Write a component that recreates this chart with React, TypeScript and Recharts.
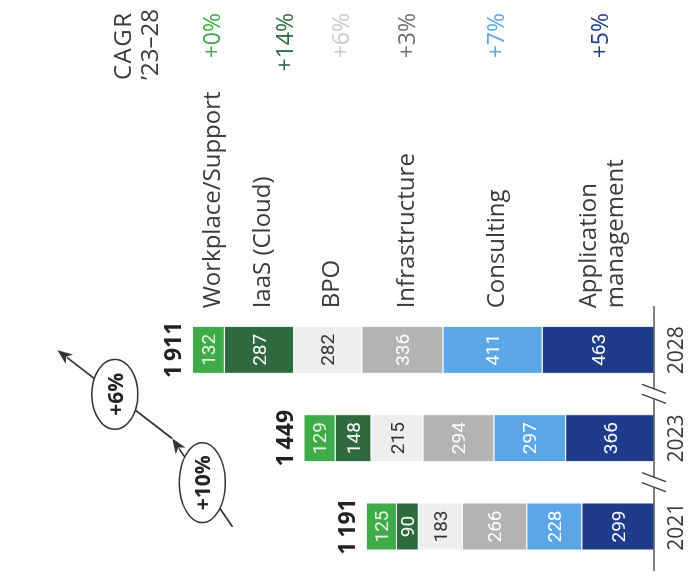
import React from 'react';
import { BarChart, Bar, XAxis, YAxis, LabelList, ReferenceLine } from 'recharts';

// ---------- data ----------
const years = ['2021', '2023', '2028'];
const applicationManagement = [299, 366, 463];
const consulting = [228, 297, 411];
const infrastructure = [266, 294, 336];
const bpo = [183, 215, 282];
const iaas = [90, 148, 287];
const workplace = [125, 129, 132];
const totals = [1191, 1449, 1911];
const seriesNames = ['Application management', 'Consulting', 'Infrastructure', 'BPO', 'IaaS (Cloud)', 'Workplace/Support'];
const cagrLabels = ['+5%', '+7%', '+3%', '+6%', '+14%', '+0%'];
const cagrHeader = ['CAGR', '\u201923\u201328'];
const growthLabels = ['+10%', '+6%'];
const growthPoints = [1745, 1995, 2470];

// ---------- styles ----------
const FONT = '"Open Sans", "Noto Sans", sans-serif';
const NUM_FONT = 'Roboto, "Noto Sans", sans-serif';
const seriesKeys = ['app', 'consulting', 'infra', 'bpo', 'iaas', 'workplace'];
const seriesColors = ['#1f3b8c', '#5ba6e6', '#b3b3b3', '#eeeeee', '#2e6a3e', '#3fab49'];
const valueColors = ['#ffffff', '#ffffff', '#ffffff', '#333333', '#ffffff', '#eaf6e4'];
const cagrColors = ['#1f3b8c', '#5ba6e6', '#6f6f6f', '#c9c9c9', '#2e6a3e', '#3fab49'];
const cagrNudge = [1, 2, 4, 12, 25, 3];
const headerSpacing = [1.5, 0];
const CAGR_RIGHT = 566;
const HEADER_LEFT = 499;

const seriesValues = [applicationManagement, consulting, infrastructure, bpo, iaas, workplace];
const data = years.map((year, i) => {
  const row: Record<string, any> = { year };
  seriesKeys.forEach((k, s) => {
    row[k] = seriesValues[s][i];
  });
  return row;
});

const fmt = (n: number) => {
  const s = String(n);
  return s.length > 3 ? s.slice(0, s.length - 3) + '\u2009' + s.slice(s.length - 3) : s;
};

const rectOf = (props: any) => {
  const vb = props.viewBox || {};
  const x = Number(props.x ?? vb.x);
  const y = Number(props.y ?? vb.y);
  const w = Number(props.width ?? vb.width);
  const h = Number(props.height ?? vb.height);
  return { x, y: Math.min(y, y + h), w, h: Math.abs(h) };
};

const makeSideLabel = (s: number) => (props: any) => {
  if (props.index !== years.length - 1) return null;
  const { x, y, w, h } = rectOf(props);
  const cy = y + h / 2;
  const lx = x + w + 18;
  const name = seriesNames[s];
  const lines = name.length > 18 ? name.split(' ') : [name];
  const lh = 27;
  return (
    <g>
      {lines.map((ln, j) => (
        <text
          key={j}
          x={lx}
          y={cy + 2 + (j - (lines.length - 1) / 2) * lh}
          textAnchor="start"
          dominantBaseline="central"
          fontFamily={FONT}
          fontSize={24}
          fill="#3a3a3a"
        >
          {ln}
        </text>
      ))}
      <text
        x={CAGR_RIGHT}
        y={cy + cagrNudge[s]}
        textAnchor="end"
        dominantBaseline="central"
        fontFamily={FONT}
        fontSize={23}
        fill={cagrColors[s]}
      >
        {cagrLabels[s]}
      </text>
      {s === seriesKeys.length - 1 &&
        cagrHeader.map((t, j) => (
          <text
            key={'h' + j}
            x={HEADER_LEFT}
            y={cy - 87 + j * 27}
            textAnchor="start"
            dominantBaseline="central"
            fontFamily={FONT}
            fontSize={24}
            letterSpacing={headerSpacing[j]}
            fill="#3a3a3a"
          >
            {t}
          </text>
        ))}
    </g>
  );
};

const TotalLabel = (props: any) => {
  const { x, y, w } = rectOf(props);
  const i = props.index;
  if (i === undefined || totals[i] === undefined) return null;
  return (
    <text
      x={x + w / 2}
      y={y - 20}
      textAnchor="middle"
      dominantBaseline="central"
      fontFamily={FONT}
      fontSize={23}
      fontWeight={700}
      fill="#222"
    >
      {fmt(totals[i])}
    </text>
  );
};

const YearTick = (props: any) => {
  const { x, y, payload, index } = props;
  const half = payload && payload.offset ? payload.offset : 44;
  const showBreak = index < years.length - 1;
  const c = x + half;
  return (
    <g>
      <text
        x={x}
        y={y + 21}
        textAnchor="middle"
        dominantBaseline="central"
        fontFamily={FONT}
        fontSize={21}
        fill="#3a3a3a"
      >
        {payload.value}
      </text>
      {showBreak && (
        <g>
          <rect x={c - 5} y={y - 2} width={10} height={4} fill="#fff" />
          <line x1={c + 10} y1={y - 12} x2={c + 1} y2={y + 12} stroke="#444" strokeWidth={1.4} />
          <line x1={c} y1={y - 12} x2={c - 9} y2={y + 12} stroke="#444" strokeWidth={1.4} />
        </g>
      )}
    </g>
  );
};

const makeGrowthShape = (label: string, rx: number) => (props: any) => {
  const x1 = Number(props.x1), y1 = Number(props.y1), x2 = Number(props.x2), y2 = Number(props.y2);
  const ang = Math.atan2(y2 - y1, x2 - x1);
  const c = Math.cos(ang), s = Math.sin(ang);
  const L = 15, W = 6;
  const bx = x2 - L * c, by = y2 - L * s;
  const pts = `${x2},${y2} ${bx + W * s},${by - W * c} ${bx + 4 * c},${by + 4 * s} ${bx - W * s},${by + W * c}`;
  const mx = (x1 + x2) / 2, my = (y1 + y2) / 2;
  return (
    <g>
      <line x1={x1} y1={y1} x2={bx + 3 * c} y2={by + 3 * s} stroke="#333" strokeWidth={1.7} />
      <polygon points={pts} fill="#333" />
      <ellipse cx={mx} cy={my} rx={rx} ry={23} fill="#fff" stroke="#333" strokeWidth={1.5} />
      <text
        x={mx}
        y={my}
        textAnchor="middle"
        dominantBaseline="central"
        fontFamily={FONT}
        fontSize={21}
        fontWeight={700}
        fill="#222"
      >
        {label}
      </text>
    </g>
  );
};

const growthRx = [40, 35];

export default function App() {
  return (
    <div
      style={{
        position: 'fixed',
        left: 0,
        top: 0,
        width: 579,
        height: 688,
        background: '#fff',
        transformOrigin: '0 0',
        transform: 'translate(0px, 579px) rotate(-90deg)',
      }}
    >
      <BarChart width={579} height={688} data={data} margin={{ top: 26, right: 306, bottom: 4, left: 8 }} barSize={47}>
        <XAxis
          dataKey="year"
          height={30}
          axisLine={{ stroke: '#555', strokeWidth: 1.3 }}
          tickLine={false}
          tickSize={0}
          tickMargin={0}
          tick={<YearTick />}
          interval={0}
        />
        <YAxis type="number" domain={[0, 2600]} hide />
        {seriesKeys.map((k, s) => (
          <Bar
            key={k}
            dataKey={k}
            stackId="a"
            fill={seriesColors[s]}
            stroke="#fff"
            strokeWidth={1}
            isAnimationActive={false}
          >
            <LabelList
              dataKey={k}
              position="center"
              fill={valueColors[s]}
              fontFamily={NUM_FONT}
              fontSize={19}
            />
            <LabelList dataKey={k} content={makeSideLabel(s)} />
            {s === seriesKeys.length - 1 && <LabelList dataKey={k} content={TotalLabel} />}
          </Bar>
        ))}
        {growthLabels.map((g, j) => (
          <ReferenceLine
            key={g}
            segment={[
              { x: years[j], y: growthPoints[j] },
              { x: years[j + 1], y: growthPoints[j + 1] },
            ]}
            position="middle"
            ifOverflow="visible"
            isFront
            shape={makeGrowthShape(g, growthRx[j])}
          />
        ))}
      </BarChart>
    </div>
  );
}
